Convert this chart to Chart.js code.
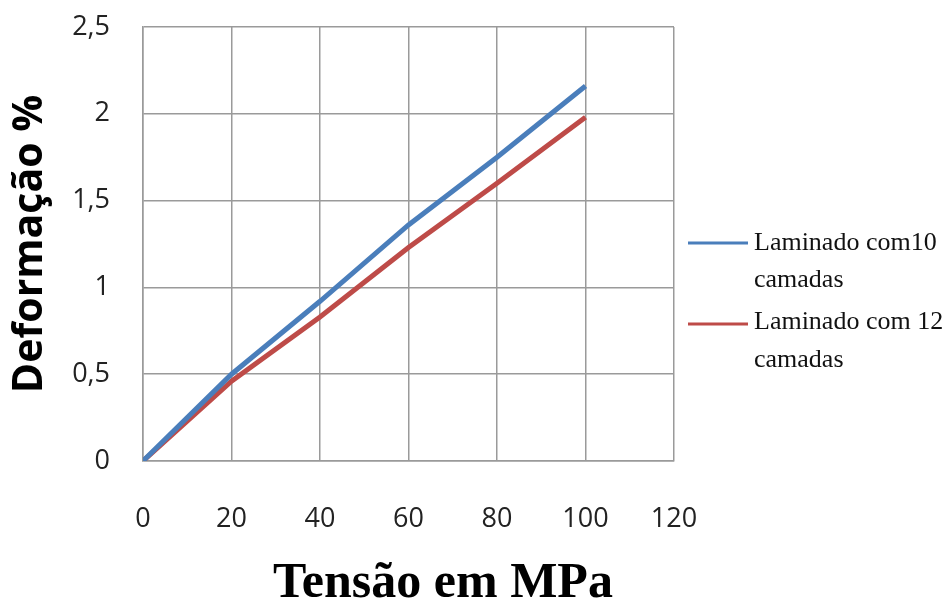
<!DOCTYPE html>
<html>
<head>
<meta charset="utf-8">
<script src="https://cdn.jsdelivr.net/npm/chart.js@4/dist/chart.umd.min.js"></script>
<style>
  html, body { margin: 0; padding: 0; background: #ffffff; }
  #wrap { width: 944px; height: 606px; position: relative; }
</style>
</head>
<body>
<div id="wrap"><canvas id="chart" width="944" height="606"></canvas></div>
<script>
// Tensão aplicada (MPa)
const stressMPa = [0, 20, 40, 60, 80, 100];
// Deformação (%) para cada laminado
const strain10Layers = [0, 0.50, 0.92, 1.36, 1.75, 2.16];
const strain12Layers = [0, 0.46, 0.83, 1.23, 1.60, 1.98];

const seriesNames = [['Laminado com10', 'camadas'], ['Laminado com 12', 'camadas']];
const xTickLabels = ['0', '20', '40', '60', '80', '100', '120'];
const yTickLabels = ['0', '0,5', '1', '1,5', '2', '2,5'];
const xAxisTitle = 'Tensão em MPa';
const yAxisTitle = 'Deformação %';

const toPoints = (xs, ys) => xs.map((x, i) => ({ x: x, y: ys[i] }));

const gridColor = '#9a9a9a';
const tickFont = { family: '"Open Sans", sans-serif', size: 27 };

// Legend at the right (two-line labels) and the horizontal axis title
const sidePlugin = {
  id: 'sideLegend',
  afterDraw(chart) {
    const ctx = chart.ctx;
    ctx.save();
    const rows = [
      { lineY: 243, textY: [243, 280] },
      { lineY: 324, textY: [322, 360] }
    ];
    chart.data.datasets.forEach((ds, i) => {
      const r = rows[i];
      ctx.strokeStyle = ds.borderColor;
      ctx.lineWidth = 3;
      ctx.beginPath();
      ctx.moveTo(688, r.lineY);
      ctx.lineTo(748, r.lineY);
      ctx.stroke();
      ctx.fillStyle = '#111';
      ctx.font = '26px "Liberation Serif", "Times New Roman", serif';
      ctx.textAlign = 'left';
      ctx.textBaseline = 'middle';
      seriesNames[i].forEach((t, k) => ctx.fillText(t, 754, r.textY[k]));
    });
    ctx.fillStyle = '#000';
    ctx.font = 'bold 50px "Liberation Serif", "Times New Roman", serif';
    ctx.textAlign = 'center';
    ctx.textBaseline = 'middle';
    ctx.fillText(xAxisTitle, 443, 584);
    ctx.restore();
  }
};

new Chart(document.getElementById('chart'), {
  type: 'line',
  data: {
    datasets: [
      {
        label: seriesNames[0].join(' '),
        data: toPoints(stressMPa, strain10Layers),
        borderColor: '#4a7ebb',
        borderWidth: 5,
        pointRadius: 0,
        tension: 0,
        fill: false
      },
      {
        label: seriesNames[1].join(' '),
        data: toPoints(stressMPa, strain12Layers),
        borderColor: '#be4b48',
        borderWidth: 5,
        pointRadius: 0,
        tension: 0,
        fill: false
      }
    ]
  },
  options: {
    responsive: false,
    animation: false,
    layout: { padding: { left: 0, right: 270, top: 27, bottom: 0 } },
    plugins: {
      legend: { display: false },
      tooltip: { enabled: false }
    },
    scales: {
      x: {
        type: 'linear',
        min: 0,
        max: 120,
        afterFit: (axis) => { axis.height = 145; },
        ticks: {
          stepSize: 20,
          padding: 42,
          color: '#222',
          font: tickFont,
          callback: (v, i) => xTickLabels[i]
        },
        grid: { color: gridColor, lineWidth: 1.5, drawTicks: false },
        border: { color: gridColor, width: 1.5 }
      },
      y: {
        type: 'linear',
        min: 0,
        max: 2.5,
        afterFit: (axis) => {
          axis.width = 143;
          axis.paddingTop = 0;
          axis.paddingBottom = 0;
        },
        ticks: {
          stepSize: 0.5,
          padding: 33,
          color: '#222',
          font: tickFont,
          callback: (v, i) => yTickLabels[i]
        },
        grid: { color: gridColor, lineWidth: 1.5, drawTicks: false },
        border: { color: gridColor, width: 1.5 },
        title: {
          display: true,
          text: yAxisTitle,
          color: '#000',
          font: { family: '"Open Sans", sans-serif', size: 41, weight: 'bold', lineHeight: 1 },
          padding: { top: 10, bottom: 0 }
        }
      }
    }
  },
  plugins: [sidePlugin]
});
</script>
</body>
</html>
